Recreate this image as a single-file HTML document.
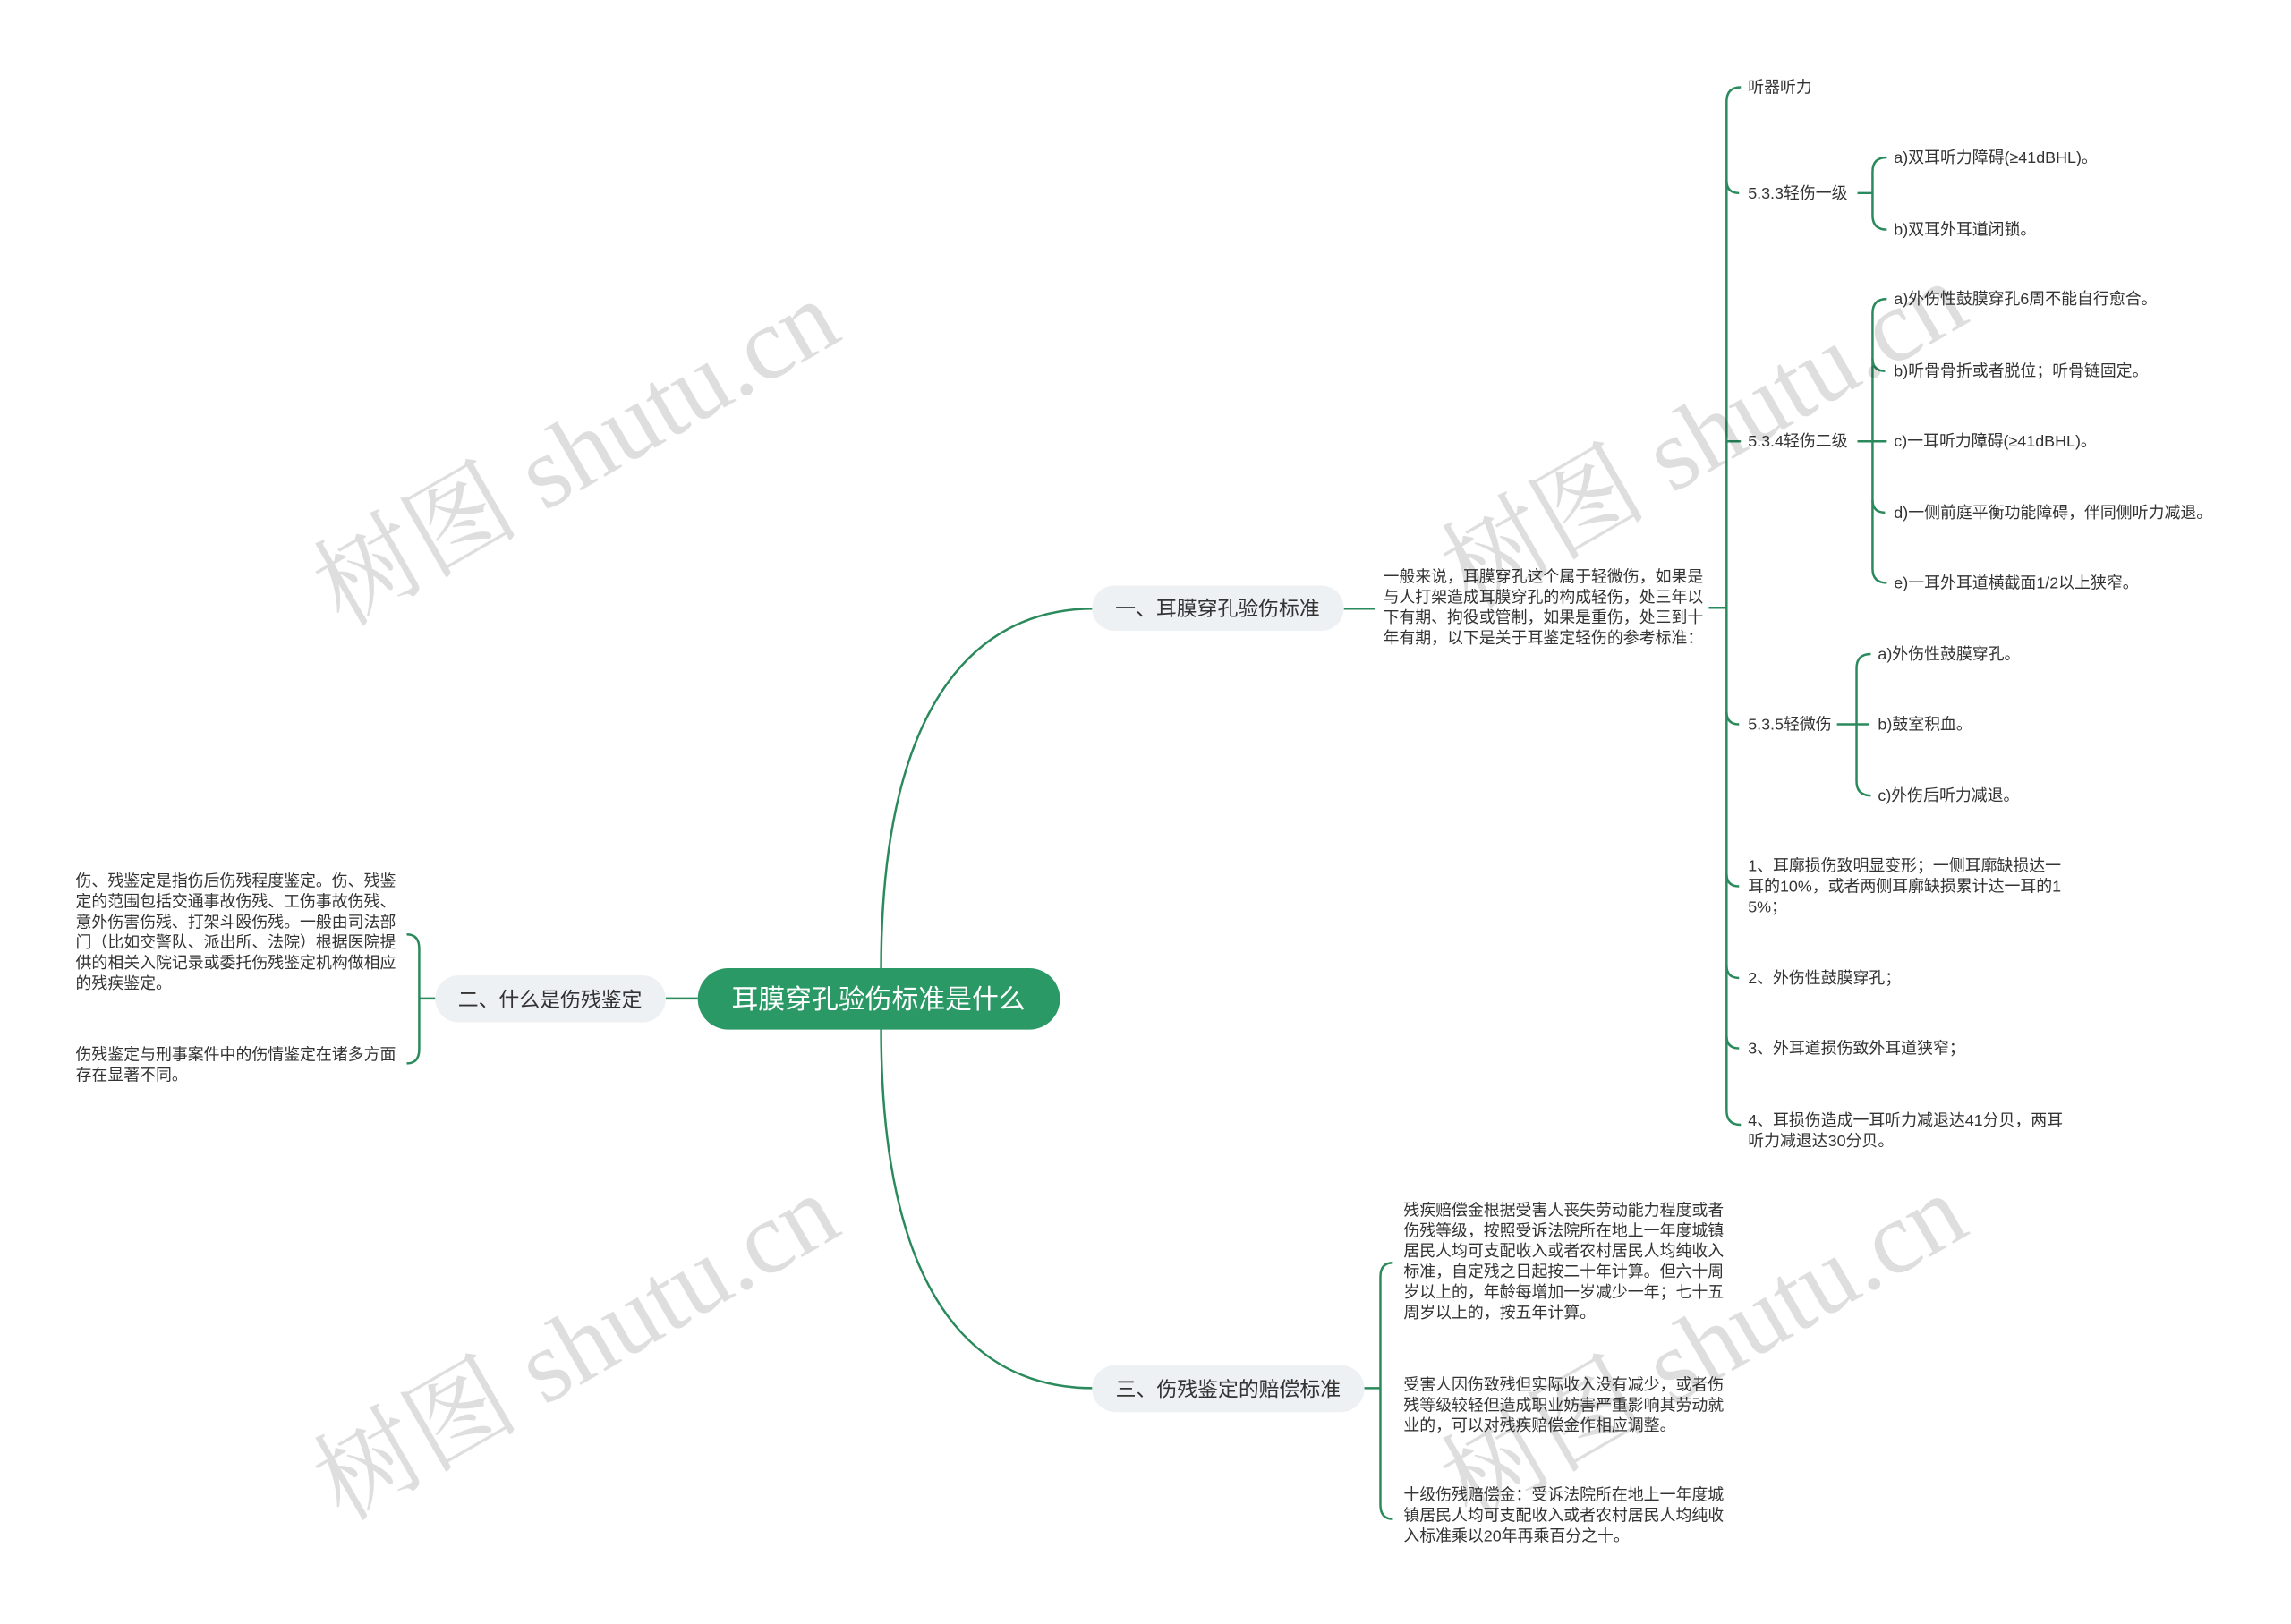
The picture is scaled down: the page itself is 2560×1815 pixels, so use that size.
<!DOCTYPE html>
<html><head><meta charset="utf-8">
<style>
html,body{margin:0;padding:0;background:#fff;}
svg{display:block;}
text{font-family:"Liberation Sans","Noto Sans CJK SC",sans-serif;fill:#333;}
.s{font-size:18px;}
.b{font-size:23px;}
.wm{font-family:"Liberation Serif","Noto Serif CJK SC",serif;font-size:116px;fill:rgba(0,0,0,0.13);}
</style></head><body>
<svg width="2560" height="1815" viewBox="0 0 2560 1815" xmlns="http://www.w3.org/2000/svg">
<g transform="scale(0.9945)">
<g fill="none" stroke="#2a8a5c" stroke-width="2.5">
<path d="M990 1090 C990 800 1090 684 1229 684"/>
<path d="M990 1155 C990 1450 1090 1560 1229 1560"/>
<path d="M784 1122 H748"/>
<path d="M1510 684 H1545"/>
<path d="M1920 683 H1940"/>
<path d="M1956 98 Q1940 98 1940 114 V1248 Q1940 1264 1956 1264"/>
<path d="M1940 203 Q1940 217 1954 217"/>
<path d="M1940 496 H1956"/>
<path d="M1940 800 Q1940 814 1954 814"/>
<path d="M1940 982 Q1940 996 1954 996"/>
<path d="M1940 1085 Q1940 1099 1954 1099"/>
<path d="M1940 1164 Q1940 1178 1954 1178"/>
<path d="M2087 217 H2104"/>
<path d="M2120 177 Q2104 177 2104 193 V242 Q2104 258 2120 258"/>
<path d="M2087 496 H2120"/>
<path d="M2120 336 Q2104 336 2104 352 V639 Q2104 655 2120 655"/>
<path d="M2104 403 Q2104 417 2118 417"/>
<path d="M2104 562 Q2104 576 2118 576"/>
<path d="M2064 814 H2100"/>
<path d="M2102 735 Q2086 735 2086 751 V878 Q2086 894 2102 894"/>
<path d="M489 1122 H471"/>
<path d="M457 1050 Q471 1050 471 1066 V1179 Q471 1195 457 1195"/>
<path d="M1533 1560 H1551"/>
<path d="M1565 1419 Q1551 1419 1551 1435 V1691 Q1551 1707 1565 1707"/>
</g>
<rect x="784" y="1088" width="407" height="69" rx="34.5" fill="#2a9966"/>
<text x="987" y="1133" text-anchor="middle" style="font-size:30px;fill:#fff">耳膜穿孔验伤标准是什么</text>
<rect x="1227" y="658" width="283" height="51" rx="25.5" fill="#eef1f4"/>
<text x="1368" y="692" text-anchor="middle" class="b">一、耳膜穿孔验伤标准</text>
<rect x="489" y="1096" width="259" height="53" rx="26.5" fill="#eef1f4"/>
<text x="618" y="1131" text-anchor="middle" class="b">二、什么是伤残鉴定</text>
<rect x="1227" y="1534" width="306" height="53" rx="26.5" fill="#eef1f4"/>
<text x="1380" y="1569" text-anchor="middle" class="b">三、伤残鉴定的赔偿标准</text>
<g class="s">
<text x="1554" y="654">一般来说，耳膜穿孔这个属于轻微伤，如果是</text>
<text x="1554" y="677">与人打架造成耳膜穿孔的构成轻伤，处三年以</text>
<text x="1554" y="700">下有期、拘役或管制，如果是重伤，处三到十</text>
<text x="1554" y="723">年有期，以下是关于耳鉴定轻伤的参考标准：</text>
<text x="1964" y="104">听器听力</text>
<text x="1964" y="223">5.3.3轻伤一级</text>
<text x="1964" y="502">5.3.4轻伤二级</text>
<text x="1964" y="820">5.3.5轻微伤</text>
<text x="1964" y="979">1、耳廓损伤致明显变形；一侧耳廓缺损达一</text>
<text x="1964" y="1002">耳的10%，或者两侧耳廓缺损累计达一耳的1</text>
<text x="1964" y="1025">5%；</text>
<text x="1964" y="1105">2、外伤性鼓膜穿孔；</text>
<text x="1964" y="1184">3、外耳道损伤致外耳道狭窄；</text>
<text x="1964" y="1265">4、耳损伤造成一耳听力减退达41分贝，两耳</text>
<text x="1964" y="1288">听力减退达30分贝。</text>
<text x="2128" y="183">a)双耳听力障碍(≥41dBHL)。</text>
<text x="2128" y="264">b)双耳外耳道闭锁。</text>
<text x="2128" y="342">a)外伤性鼓膜穿孔6周不能自行愈合。</text>
<text x="2128" y="423">b)听骨骨折或者脱位；听骨链固定。</text>
<text x="2128" y="502">c)一耳听力障碍(≥41dBHL)。</text>
<text x="2128" y="582">d)一侧前庭平衡功能障碍，伴同侧听力减退。</text>
<text x="2128" y="661">e)一耳外耳道横截面1/2以上狭窄。</text>
<text x="2110" y="741">a)外伤性鼓膜穿孔。</text>
<text x="2110" y="820">b)鼓室积血。</text>
<text x="2110" y="900">c)外伤后听力减退。</text>
<text x="85" y="996">伤、残鉴定是指伤后伤残程度鉴定。伤、残鉴</text>
<text x="85" y="1019">定的范围包括交通事故伤残、工伤事故伤残、</text>
<text x="85" y="1042">意外伤害伤残、打架斗殴伤残。一般由司法部</text>
<text x="85" y="1065">门（比如交警队、派出所、法院）根据医院提</text>
<text x="85" y="1088">供的相关入院记录或委托伤残鉴定机构做相应</text>
<text x="85" y="1111">的残疾鉴定。</text>
<text x="85" y="1191">伤残鉴定与刑事案件中的伤情鉴定在诸多方面</text>
<text x="85" y="1214">存在显著不同。</text>
<text x="1577" y="1366">残疾赔偿金根据受害人丧失劳动能力程度或者</text>
<text x="1577" y="1389">伤残等级，按照受诉法院所在地上一年度城镇</text>
<text x="1577" y="1412">居民人均可支配收入或者农村居民人均纯收入</text>
<text x="1577" y="1435">标准，自定残之日起按二十年计算。但六十周</text>
<text x="1577" y="1458">岁以上的，年龄每增加一岁减少一年；七十五</text>
<text x="1577" y="1481">周岁以上的，按五年计算。</text>
<text x="1577" y="1562">受害人因伤致残但实际收入没有减少，或者伤</text>
<text x="1577" y="1585">残等级较轻但造成职业妨害严重影响其劳动就</text>
<text x="1577" y="1608">业的，可以对残疾赔偿金作相应调整。</text>
<text x="1577" y="1686">十级伤残赔偿金：受诉法院所在地上一年度城</text>
<text x="1577" y="1709">镇居民人均可支配收入或者农村居民人均纯收</text>
<text x="1577" y="1732">入标准乘以20年再乘百分之十。</text>
</g>
<text class="wm" x="648" y="548" text-anchor="middle" transform="rotate(-30 648 510)">树图 shutu.cn</text>
<text class="wm" x="648" y="1553" text-anchor="middle" transform="rotate(-30 648 1515)">树图 shutu.cn</text>
<text class="wm" x="1915" y="528" text-anchor="middle" transform="rotate(-30 1915 490)">树图 shutu.cn</text>
<text class="wm" x="1915" y="1553" text-anchor="middle" transform="rotate(-30 1915 1515)">树图 shutu.cn</text>
</g>
</svg>
</body></html>
